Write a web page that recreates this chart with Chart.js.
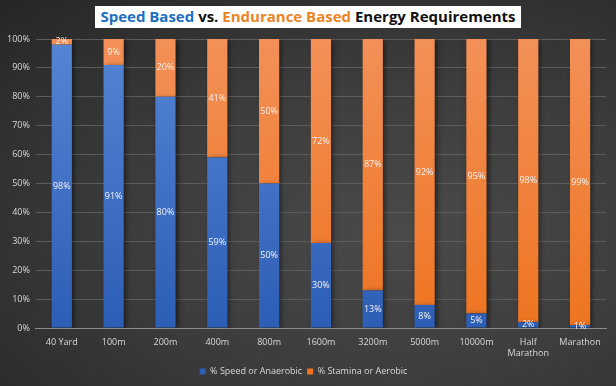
<!DOCTYPE html>
<html lang="en">
<head>
    <meta charset="UTF-8">
    <title>Speed Based vs. Endurance Based Energy Requirements</title>
    <script src="https://cdn.jsdelivr.net/npm/chart.js"></script>
    <style>
        html, body { margin: 0; padding: 0; }
        body { width: 616px; height: 386px; overflow: hidden; }
        .wrap {
            position: relative; width: 616px; height: 386px;
            background: radial-gradient(ellipse at 65% 60%, #4a4a4a 0%, #3d3d3d 45%, #262626 100%);
        }
        .title {
            position: absolute; left: 95px; top: 6px; width: 426px; height: 22px;
            background: #fff; color: #111; text-align: center; line-height: 22px;
            font: bold 15px 'Open Sans', sans-serif; white-space: nowrap;
        }
        .title .blue { color: #1c6fc0; }
        .title .orange { color: #ec8422; }
        canvas { position: absolute; left: 0; top: 0; }
    </style>
</head>
<body>
    <div class="wrap">
        <canvas id="energyChart" width="616" height="386"></canvas>
        <div class="title"><span class="blue">Speed Based</span> vs. <span class="orange">Endurance Based</span> Energy Requirements</div>
    </div>

    <script>
        // data
        const events = ['40 Yard', '100m', '200m', '400m', '800m', '1600m', '3200m', '5000m', '10000m', ['Half', 'Marathon'], 'Marathon'];
        const speedPct = [98, 91, 80, 59, 50, 30, 13, 8, 5, 2, 1];
        const staminaPct = [2, 9, 20, 41, 50, 72, 87, 92, 95, 98, 99];
        const yTicks = [0, 10, 20, 30, 40, 50, 60, 70, 80, 90, 100];

        // 100% stacked: each column is scaled to its total
        const speedPlot = speedPct.map((v, i) => v / (v + staminaPct[i]) * 100);
        const staminaPlot = staminaPct.map((v, i) => v / (speedPct[i] + v) * 100);

        function fillGrad(top, bottom, fallback) {
            return (c) => {
                const area = c.chart.chartArea;
                if (!area) return fallback;
                const g = c.chart.ctx.createLinearGradient(0, area.top, 0, area.bottom);
                g.addColorStop(0, top);
                g.addColorStop(1, bottom);
                return g;
            };
        }

        const barLabels = {
            id: 'barLabels',
            beforeDatasetsDraw(chart) {
                const ctx = chart.ctx;
                ctx.save();
                ctx.shadowColor = 'rgba(0,0,0,0.55)';
                ctx.shadowBlur = 5;
                ctx.shadowOffsetX = 2;
                ctx.shadowOffsetY = 1;
            },
            afterDatasetsDraw(chart) {
                const ctx = chart.ctx;
                ctx.restore();
                ctx.save();
                ctx.font = '9px "Open Sans", sans-serif';
                ctx.fillStyle = '#f2f2f2';
                ctx.textAlign = 'center';
                ctx.textBaseline = 'middle';
                const raw = [speedPct, staminaPct];
                chart.data.datasets.forEach((ds, di) => {
                    chart.getDatasetMeta(di).data.forEach((bar, i) => {
                        ctx.fillText(raw[di][i] + '%', bar.x, (bar.y + bar.base) / 2);
                    });
                });
                ctx.restore();
            }
        };

        new Chart(document.getElementById('energyChart'), {
            type: 'bar',
            data: {
                labels: events,
                datasets: [{
                    label: '% Speed or Anaerobic',
                    data: speedPlot,
                    backgroundColor: fillGrad('#5585d4', '#2d5eb6', '#4472c4'),
                    categoryPercentage: 1,
                    barPercentage: 0.39
                }, {
                    label: '% Stamina or Aerobic',
                    data: staminaPlot,
                    backgroundColor: fillGrad('#f39058', '#ee7420', '#ed7d31'),
                    categoryPercentage: 1,
                    barPercentage: 0.39
                }]
            },
            options: {
                responsive: false,
                maintainAspectRatio: false,
                animation: false,
                layout: { padding: { top: 39, right: 10, left: 1, bottom: 0 } },
                plugins: {
                    title: { display: false },
                    tooltip: { enabled: false },
                    legend: {
                        position: 'bottom',
                        labels: {
                            boxWidth: 6,
                            boxHeight: 6,
                            color: '#d9d9d9',
                            font: { size: 9, family: 'Open Sans' },
                            padding: 5
                        }
                    }
                },
                scales: {
                    x: {
                        stacked: true,
                        afterFit: (scale) => { scale.height = 34; },
                        grid: { display: false, drawTicks: false },
                        border: { color: '#8c8c8c' },
                        ticks: { color: '#d9d9d9', font: { size: 9, family: 'Open Sans' }, padding: 9, maxRotation: 0, autoSkip: false }
                    },
                    y: {
                        stacked: true,
                        min: 0,
                        max: 100,
                        afterBuildTicks: (axis) => { axis.ticks = yTicks.map(v => ({ value: v })); },
                        grid: { color: '#5c5c5c', drawTicks: false },
                        border: { display: false },
                        ticks: { color: '#d9d9d9', font: { size: 9, family: 'Open Sans' }, padding: 6, callback: v => v + '%' }
                    }
                }
            },
            plugins: [barLabels]
        });
    </script>
</body>
</html>
